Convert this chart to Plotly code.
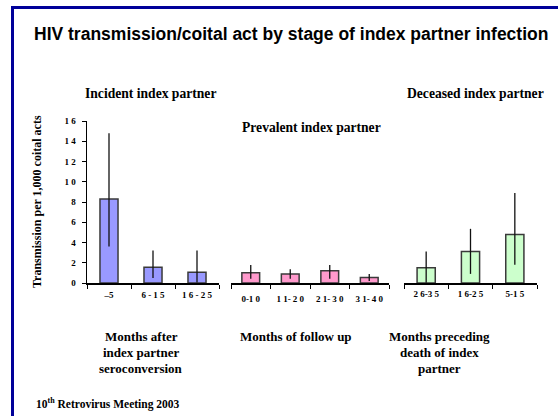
import plotly.graph_objects as go

# ---- data ----
inc_cats = ["\u20135", "6 - 1 5", "1 6 - 2 5"]
inc_vals = [8.3, 1.55, 1.05]
inc_hi = [14.8, 3.2, 3.2]
inc_lo = [3.6, 0.5, 0.05]

prev_cats = ["0-1 0", "1 1- 2 0", "2 1- 3 0", "3 1- 4 0"]
prev_vals = [1.02, 0.9, 1.22, 0.55]
prev_hi = [1.77, 1.35, 1.77, 0.88]
prev_lo = [0.43, 0.43, 0.43, 0.2]

dec_cats = ["2 6-3 5", "1 6-2 5", "5-1 5"]
dec_vals = [1.5, 3.1, 4.8]
dec_hi = [3.1, 5.35, 8.9]
dec_lo = [0.02, 0.9, 1.8]

y_ticks = [0, 2, 4, 6, 8, 10, 12, 14, 16]
y_tick_text = ["0", "2", "4", "6", "8", "1 0", "1 2", "1 4", "1 6"]

left_label = ["Months after", "index partner", "seroconversion"]
mid_label = ["Months of follow up"]
right_label = ["Months preceding", "death of index", "partner"]

# ---- layout geometry ----
W, H = 558, 416
L, R, T, B = 87, 21, 121, 133
PW, PH = W - L - R, H - T - B


def xp(px):
    return (px - L) / PW


def yp(py):
    return (H - B - py) / PH


SERIF = "Liberation Serif, Times New Roman, serif"
SANS = "Liberation Sans, Arial, sans-serif"
OUTLINE = "#3a3a3a"

fig = go.Figure()


def add_panel(cats, vals, hi, lo, color, xaxis, width):
    fig.add_trace(go.Bar(
        x=cats, y=vals, xaxis=xaxis, yaxis="y",
        width=width,
        marker=dict(color=color, line=dict(color=OUTLINE, width=1.5)),
        error_y=dict(type="data", symmetric=False,
                     array=[h - v for h, v in zip(hi, vals)],
                     arrayminus=[v - l for v, l in zip(vals, lo)],
                     color="#111111", thickness=1.3, width=0),
        showlegend=False, hoverinfo="skip",
    ))


add_panel(inc_cats, inc_vals, inc_hi, inc_lo, "#9999FF", "x", 0.41)
add_panel(prev_cats, prev_vals, prev_hi, prev_lo, "#FF99CC", "x2", 0.45)
add_panel(dec_cats, dec_vals, dec_hi, dec_lo, "#CCFFCC", "x3", 0.41)

xcommon = dict(
    type="category", showgrid=False, zeroline=False, showline=True,
    linecolor="#000000", linewidth=1.5, ticks="outside", tickson="boundaries",
    ticklen=4, tickwidth=1, tickcolor="#000000", anchor="y",
    tickfont=dict(family=SERIF, size=9, color="#000000", weight="bold"),
    fixedrange=True,
)

fig.update_layout(
    width=W, height=H,
    margin=dict(l=L, r=R, t=T, b=B, pad=0),
    paper_bgcolor="#FFFFFF", plot_bgcolor="rgba(0,0,0,0)",
    bargap=0.5,
    xaxis=dict(xcommon, domain=[xp(87), xp(219)], range=[-0.5, 2.5],
               ticklabelstandoff=3),
    xaxis2=dict(xcommon, domain=[xp(231), xp(389)], range=[-0.5, 3.5],
                ticklabelstandoff=7),
    xaxis3=dict(xcommon, domain=[xp(404), xp(537)], range=[-0.5, 2.5],
                ticklabelstandoff=2),
    yaxis=dict(range=[0, 16], domain=[0, 1], showgrid=False, zeroline=False,
               showline=True, linecolor="#000000", linewidth=1.5,
               ticks="outside", ticklen=4, tickcolor="#000000",
               tickvals=y_ticks, ticktext=y_tick_text,
               tickfont=dict(family=SERIF, size=9, color="#000000", weight="bold"),
               ticklabelstandoff=4, fixedrange=True),
)

ann = []


def text(x, y, s, size, family=SERIF, anchor="center", angle=0):
    ann.append(dict(
        x=xp(x), y=yp(y), xref="paper", yref="paper", text=s, showarrow=False,
        xanchor=anchor, yanchor="middle", textangle=angle,
        font=dict(family=family, size=size, color="#000000", weight="bold"),
    ))


text(32, 34, "HIV transmission/coital act by stage of index partner infection",
     17.5, family=SANS, anchor="left")
text(150, 94, "Incident index partner", 13.6)
text(311, 127, "Prevalent index partner", 13.6)
text(475, 94, "Deceased index partner", 13.6)
text(37, 202, "Transmission per 1,000 coital acts", 12, angle=-90)
for i, s in enumerate(left_label):
    text(141, 336 + 16 * i, s, 13)
for i, s in enumerate(mid_label):
    text(296, 336 + 16 * i, s, 13)
for i, s in enumerate(right_label):
    text(439, 336 + 16 * i, s, 13)
text(34, 403, "10<sup>th</sup> Retrovirus Meeting 2003", 11.5, anchor="left")

fig.update_layout(annotations=ann)

# blue frame (left and top edges)
FRAME = "#000099"
fig.add_shape(type="line", xref="paper", yref="paper",
              x0=xp(12.5), x1=xp(12.5), y0=yp(6.5), y1=yp(420),
              line=dict(color=FRAME, width=3))
fig.add_shape(type="line", xref="paper", yref="paper",
              x0=xp(11), x1=xp(560), y0=yp(7.5), y1=yp(7.5),
              line=dict(color=FRAME, width=3))

fig.write_html(
    "out.html",
    config={"displayModeBar": False, "staticPlot": True},
    post_script="document.body.style.margin='0';document.body.style.overflow='hidden';",
)
